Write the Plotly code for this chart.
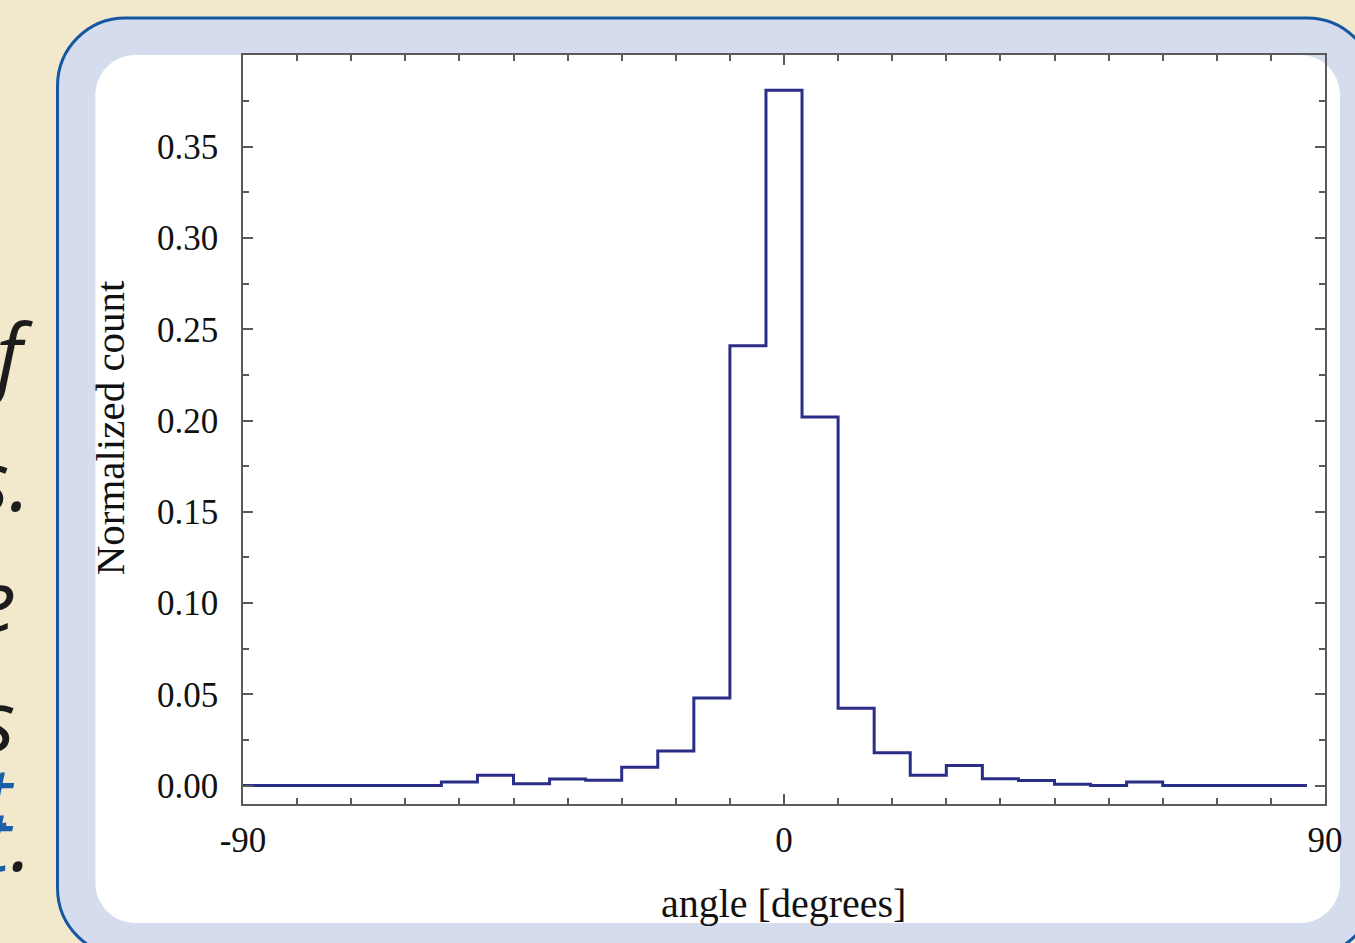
import plotly.graph_objects as go

# ---------------- data ----------------
bin_centers = [-90, -84, -78, -72, -66, -60, -54, -48, -42, -36, -30, -24, -18, -12, -6,
               0, 6, 12, 18, 24, 30, 36, 42, 48, 54, 60, 66, 72, 78, 84]
counts = [0.0, 0.0, 0.0, 0.0, 0.0, 0.0, 0.002, 0.0056, 0.001, 0.0036, 0.0029, 0.010, 0.019, 0.048, 0.241,
          0.381, 0.202, 0.0423, 0.018, 0.0056, 0.011, 0.0037, 0.0028, 0.0007, 0.0, 0.002, 0.0, 0.0, 0.0, 0.0]
bin_width = 6
x_ticks = [-90, 0, 90]
x_ticklabels = ["-90", "0", "90"]
y_ticks = [0.0, 0.05, 0.10, 0.15, 0.20, 0.25, 0.30, 0.35]
x_title = "angle [degrees]"
y_title = "Normalized count"

# step outline from bins
edges = [c - bin_width / 2 for c in bin_centers] + [bin_centers[-1] + bin_width / 2]
step_y = counts + [counts[-1]]

W, H = 1355, 943
L, R, T, B = 243, 1328, 55, 804  # plot area in pixels


def px(x):
    return (x - L) / (R - L)


def py(y):
    return (B - y) / (B - T)


def rrect(x0, y0, x1, y1, r):
    k = 0.5523 * r
    pts = [
        ("M", [(x0 + r, y0)]),
        ("L", [(x1 - r, y0)]),
        ("C", [(x1 - r + k, y0), (x1, y0 + r - k), (x1, y0 + r)]),
        ("L", [(x1, y1 - r)]),
        ("C", [(x1, y1 - r + k), (x1 - r + k, y1), (x1 - r, y1)]),
        ("L", [(x0 + r, y1)]),
        ("C", [(x0 + r - k, y1), (x0, y1 - r + k), (x0, y1 - r)]),
        ("L", [(x0, y0 + r)]),
        ("C", [(x0, y0 + r - k), (x0 + r - k, y0), (x0 + r, y0)]),
    ]
    s = ""
    for cmd, ps in pts:
        s += cmd + " " + " ".join(f"{px(a):.6f},{py(b):.6f}" for a, b in ps) + " "
    return s + "Z"


fig = go.Figure()
fig.add_trace(go.Scatter(
    x=edges, y=step_y, mode="lines", line=dict(shape="hv", color="#2b2e86", width=3),
    showlegend=False, hoverinfo="skip"))

shapes = [
    dict(type="path", xref="paper", yref="paper", layer="below",
         path=rrect(57, 18, 1378, 956, 68), fillcolor="#D4DCEE",
         line=dict(color="#1557A0", width=3)),
    dict(type="path", xref="paper", yref="paper", layer="below",
         path=rrect(95, 55, 1343, 923, 40), fillcolor="#FFFFFF",
         line=dict(width=0)),
]

serif = "Liberation Serif"
side_font = dict(family="Open Sans", size=84, color="#1c1c1c")
blue = "#1a5fa8"
annotations = [
    dict(text=x_title, x=px(785), y=py(903), xref="paper", yref="paper", showarrow=False,
         xanchor="center", yanchor="middle", font=dict(family=serif, size=40, color="#111")),
    dict(text=y_title, x=px(110), y=py(428), xref="paper", yref="paper", showarrow=False,
         textangle=-90, xanchor="center", yanchor="middle", font=dict(family=serif, size=41, color="#111")),
]
side_lines = [
    ("<i>f</i>", 34, 352),
    ("<i>s.</i>", 31, 478),
    ("<i>e</i>", 17, 598),
    ("<i>s</i>", 16, 718),
    (f"<i><span style='color:{blue}'>t</span></i>", 16, 795),
    (f"<i><span style='color:{blue}'>t</span>.</i>", 33, 838),
]
for txt, xr, yc in side_lines:
    annotations.append(dict(text=txt, x=px(xr), y=py(yc), xref="paper", yref="paper",
                            showarrow=False, xanchor="right", yanchor="middle", font=side_font))

axis_col = "#5a5a5a"
fig.update_layout(
    width=W, height=H,
    margin=dict(l=L, r=W - R, t=T, b=H - B),
    paper_bgcolor="#F2E9CC", plot_bgcolor="rgba(0,0,0,0)",
    shapes=shapes, annotations=annotations,
    xaxis=dict(range=[-90, 90], tickmode="array", tickvals=x_ticks, ticktext=x_ticklabels,
               ticks="inside", ticklen=10, tickwidth=1.5, tickcolor=axis_col,
               showline=True, linecolor=axis_col, linewidth=1.5, mirror="ticks",
               showgrid=False, zeroline=False, ticklabelstandoff=4,
               tickfont=dict(family=serif, size=35, color="#111"),
               minor=dict(tickmode="array", tickvals=list(range(-81, 90, 9)), ticks="inside",
                          ticklen=6, tickwidth=1.5, tickcolor=axis_col, showgrid=False)),
    yaxis=dict(range=[-0.0101, 0.4003], tickmode="array", tickvals=y_ticks, tickformat=".2f",
               ticks="inside", ticklen=10, tickwidth=1.5, tickcolor=axis_col,
               showline=True, linecolor=axis_col, linewidth=1.5, mirror="ticks",
               showgrid=False, zeroline=False, ticklabelstandoff=16,
               tickfont=dict(family=serif, size=35, color="#111"),
               minor=dict(tickmode="array", tickvals=[0.025 * i for i in range(1, 16, 2)],
                          ticks="inside", ticklen=6, tickwidth=1.5, tickcolor=axis_col, showgrid=False)),
)

fig.write_html("out.html", config={"displayModeBar": False},
               post_script="document.body.style.margin='0';document.body.style.overflow='hidden';")
